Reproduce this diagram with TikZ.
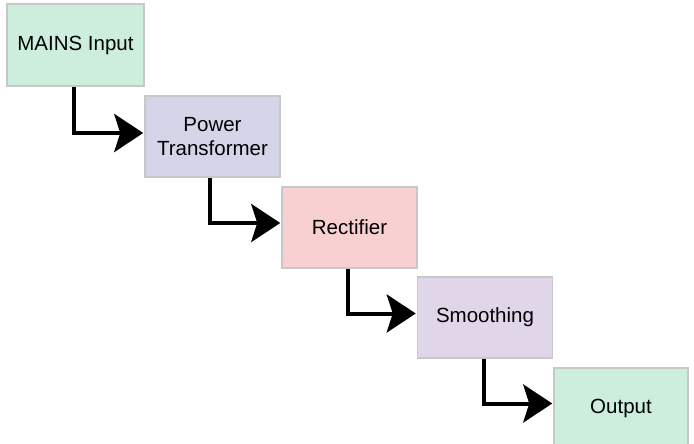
\documentclass[tikz,border=0pt]{standalone}
\usepackage{fontspec}
\setmainfont{Liberation Sans}
\usetikzlibrary{arrows.meta}
\definecolor{cgreen}{HTML}{CDEEDD}
\definecolor{cblue}{HTML}{D5D5EA}
\definecolor{cpink}{HTML}{F9D0D2}
\definecolor{cpurple}{HTML}{E1D5EA}
\definecolor{cborder}{HTML}{C8C8C8}
\begin{document}
\begin{tikzpicture}[x=1pt,y=-1pt,
  blockbox/.style={draw=cborder, line width=1.5pt, minimum width=135pt, minimum height=81pt,
    inner sep=2pt, align=center, font=\fontsize{20.5}{24.5}\selectfont, text=black},
  flowarrow/.style={line width=4pt, -{Stealth[length=29pt,width=38pt,inset=6pt]}}]
\useasboundingbox (0,0) rectangle (694,444);
\begin{scope}
\clip (0,0) rectangle (694,444);
\node[blockbox, fill=cgreen, minimum width=137pt, minimum height=82pt] (mains) at (75.5,45) {MAINS Input};
\node[blockbox, fill=cblue] (ptrans) at (212.5,136.5) {Power\\Transformer};
\node[blockbox, fill=cpink] (rect) at (349.5,227.5) {Rectifier};
\node[blockbox, fill=cpurple] (smooth) at (485,317.5) {Smoothing};
\node[blockbox, fill=cgreen, minimum width=134pt] (out) at (621,408.5) {Output};
\end{scope}
\draw[flowarrow] ([xshift=-1.5pt]mains.south) |- ([yshift=3.5pt,xshift=-1pt]ptrans.west);
\draw[flowarrow] ([xshift=-2.5pt]ptrans.south) |- ([yshift=4.5pt,xshift=-1pt]rect.west);
\draw[flowarrow] ([xshift=-2pt]rect.south) |- ([yshift=4pt,xshift=-1pt]smooth.west);
\draw[flowarrow] ([xshift=-1pt]smooth.south) |- ([yshift=5pt,xshift=-1pt]out.west);
\end{tikzpicture}
\end{document}
